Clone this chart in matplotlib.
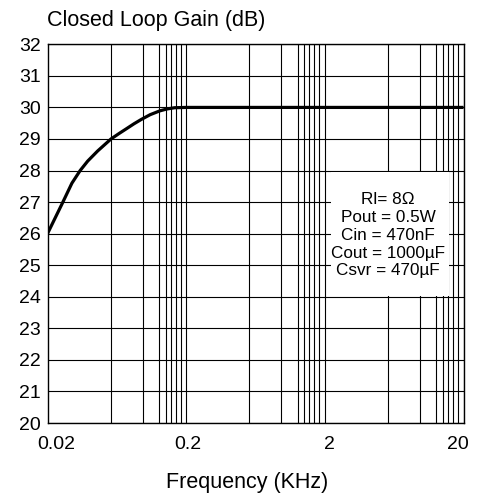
import matplotlib
matplotlib.use("Agg")
import matplotlib.pyplot as plt
from matplotlib.patches import Rectangle
from matplotlib.transforms import ScaledTranslation

plt.rcParams["font.family"] = ["Liberation Sans", "DejaVu Sans"]

# curve
freq = [0.02, 0.0255, 0.030, 0.0344, 0.039, 0.046, 0.0574, 0.066, 0.0745, 0.084,
        0.095, 0.11, 0.129, 0.145, 0.165, 0.2, 20]
gain = [26.0, 26.95, 27.6, 28.0, 28.3, 28.62, 29.0, 29.18, 29.33, 29.48,
        29.62, 29.77, 29.89, 29.95, 29.99, 30.0, 30.0]

xticks = [0.02, 0.2, 2, 20]
xticklabels = ["0.02", "0.2", "2", "20"]
yticks = list(range(20, 33))

# vertical grid lines inside each decade (as drawn in the original)
decades = [0.02, 0.2, 2]
grid_mult = [2.86, 4.86, 6.36, 7.11, 7.72, 8.39, 9.12, 10]

notes = ["Rl= 8\u03a9", "Pout = 0.5W", "Cin = 470nF", "Cout = 1000\u00b5F", "Csvr = 470\u00b5F"]

fig = plt.figure(figsize=(4.83, 4.98), dpi=100)
ax = fig.add_axes([47.5 / 483, 75 / 498, 416 / 483, 378.7 / 498])

ax.set_xscale("log")
ax.set_xlim(0.02, 20)
ax.set_ylim(20, 32)

for d in decades:
    for m in grid_mult:
        ax.axvline(d * m, color="black", lw=0.8, zorder=1)
for y in yticks:
    ax.axhline(y, color="black", lw=0.8, zorder=1)

# white note box hiding the grid (edges sit on the 24 and 28 dB lines)
ax.add_patch(Rectangle((2.22, 24.04), 15.8 - 2.22, 3.92, facecolor="white",
                       edgecolor="none", zorder=2))
ax.text(5.7, 25.95, "\n".join(notes), ha="center", va="center", fontsize=12.3,
        linespacing=1.24, zorder=3)

ax.plot(freq, gain, color="black", lw=2.3, zorder=4, solid_capstyle="butt")

ax.set_xticks(xticks)
ax.set_xticklabels(xticklabels)
ax.minorticks_off()
ax.set_yticks(yticks)
ax.tick_params(length=0, labelsize=14)
ax.tick_params(axis="x", pad=9)
ax.tick_params(axis="y", pad=5)
for sp in ax.spines.values():
    sp.set_linewidth(1.0)

offsets = [9, 2, 5, -6]
for lab, dx in zip(ax.get_xticklabels(), offsets):
    lab.set_transform(lab.get_transform() + ScaledTranslation(dx / 100, 0, fig.dpi_scale_trans))

fig.text(47 / 483, 1 - 20 / 498, "Closed Loop Gain (dB)", ha="left", va="center", fontsize=15.5)
fig.text(247 / 483, 1 - 482 / 498, "Frequency (KHz)", ha="center", va="center", fontsize=15.5)

plt.savefig("out.png", dpi=100)
